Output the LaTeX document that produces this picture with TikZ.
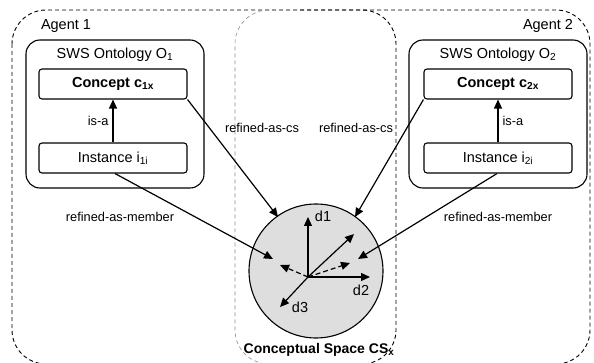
\documentclass[tikz,border=0pt]{standalone}
\usepackage{fontspec}
\setmainfont{Liberation Sans}
\usetikzlibrary{arrows.meta}
\begin{document}
\begin{tikzpicture}[x=1pt,y=-1pt,
  region/.style={draw=black,line width=0.9pt,dash pattern=on 4pt off 3pt},
  gregion/.style={draw=black!45,line width=0.6pt,dash pattern=on 4pt off 3pt},
  ontobox/.style={draw,line width=1.1pt,rounded corners=14pt,minimum width=178pt,minimum height=148pt,inner sep=0pt},
  item/.style={draw,line width=1.1pt,rounded corners=3pt,minimum width=148pt,minimum height=30pt,inner sep=0pt,font=\fontsize{14.5}{17}\selectfont},
  lbl/.style={inner sep=0pt,font=\fontsize{14.5}{17}\selectfont},
  small/.style={inner sep=0pt,font=\fontsize{12.8}{15}\selectfont},
  arr/.style={line width=1.2pt,-{Triangle[length=9pt,width=8pt]}},
  darr/.style={line width=1.2pt,dash pattern=on 5pt off 3pt,-{Triangle[length=9pt,width=8pt]}}]
\useasboundingbox (0,0) rectangle (594,363);
% regions
\draw[region,rounded corners=34pt] (12,10) rectangle (396,364);
\draw[gregion,rounded corners=34pt] (300,364) -- (235,364) -- (235,10) -- (300,10);
\draw[region,rounded corners=34pt] (300,10) -- (590,10) -- (590,364) -- (300,364);
\node[lbl] (ag1) at (66,26) {Agent 1};
\node[lbl] (ag2) at (548,26) {Agent 2};
\node[lbl,font=\fontsize{14}{17}\selectfont\bfseries] (csl) at (319,350) {Conceptual Space CS\textsubscript{x}};
% ontology 1
\node[ontobox] (o1) at (115,114) {};
\node[lbl] (o1l) at (115,55) {SWS Ontology O\textsubscript{1}};
\node[item,font=\fontsize{14.5}{17}\selectfont\bfseries] (c1) at (113,84) {Concept c\textsubscript{1x}};
\node[item] (i1) at (113,158) {Instance i\textsubscript{1i}};
\draw[arr] (i1.north) -- node[small,left=4pt] {is-a} (c1.south);
% ontology 2
\node[ontobox] (o2) at (498,114) {};
\node[lbl] (o2l) at (498,55) {SWS Ontology O\textsubscript{2}};
\node[item,font=\fontsize{14.5}{17}\selectfont\bfseries] (c2) at (498,84) {Concept c\textsubscript{2x}};
\node[item] (i2) at (498,158) {Instance i\textsubscript{2i}};
\draw[arr] (i2.north) -- node[small,right=4pt] {is-a} (c2.south);
% conceptual space circle
\node[circle,draw,line width=1.1pt,fill=black!13,minimum size=134pt,inner sep=0pt] (cs) at (316,271) {};
\coordinate (org) at (308,277);
\coordinate (d1e) at (308,217);
\coordinate (d2e) at (370,277);
\coordinate (d3e) at (280,307);
\coordinate (d4e) at (354,234);
\draw[arr] (org) -- (d1e);
\draw[arr] (org) -- (d2e);
\draw[arr] (org) -- (d3e);
\draw[arr] (org) -- (d4e);
\node[lbl] (d1l) at (323,216) {d1};
\node[lbl] (d2l) at (361,290) {d2};
\node[lbl] (d3l) at (300,307) {d3};
\coordinate (m1) at (280,265);
\coordinate (m2) at (350,263);
\draw[darr] (org) -- (m1);
\draw[darr] (org) -- (m2);
% connectors
\coordinate (t1) at (278,217);
\coordinate (t2) at (355,217);
\coordinate (t3) at (273,259);
\coordinate (t4) at (358,259);
\draw[arr] (c1.south east) -- (t1);
\draw[arr] (c2.south west) -- (t2);
\draw[arr] ([xshift=2pt]i1.south) -- (t3);
\draw[arr] ([xshift=-1pt]i2.south) -- (t4);
\node[small] (rc1) at (262,128) {refined-as-cs};
\node[small] (rc2) at (356,128) {refined-as-cs};
\node[small] (rm1) at (120,217) {refined-as-member};
\node[small] (rm2) at (498,217) {refined-as-member};
\end{tikzpicture}
\end{document}
